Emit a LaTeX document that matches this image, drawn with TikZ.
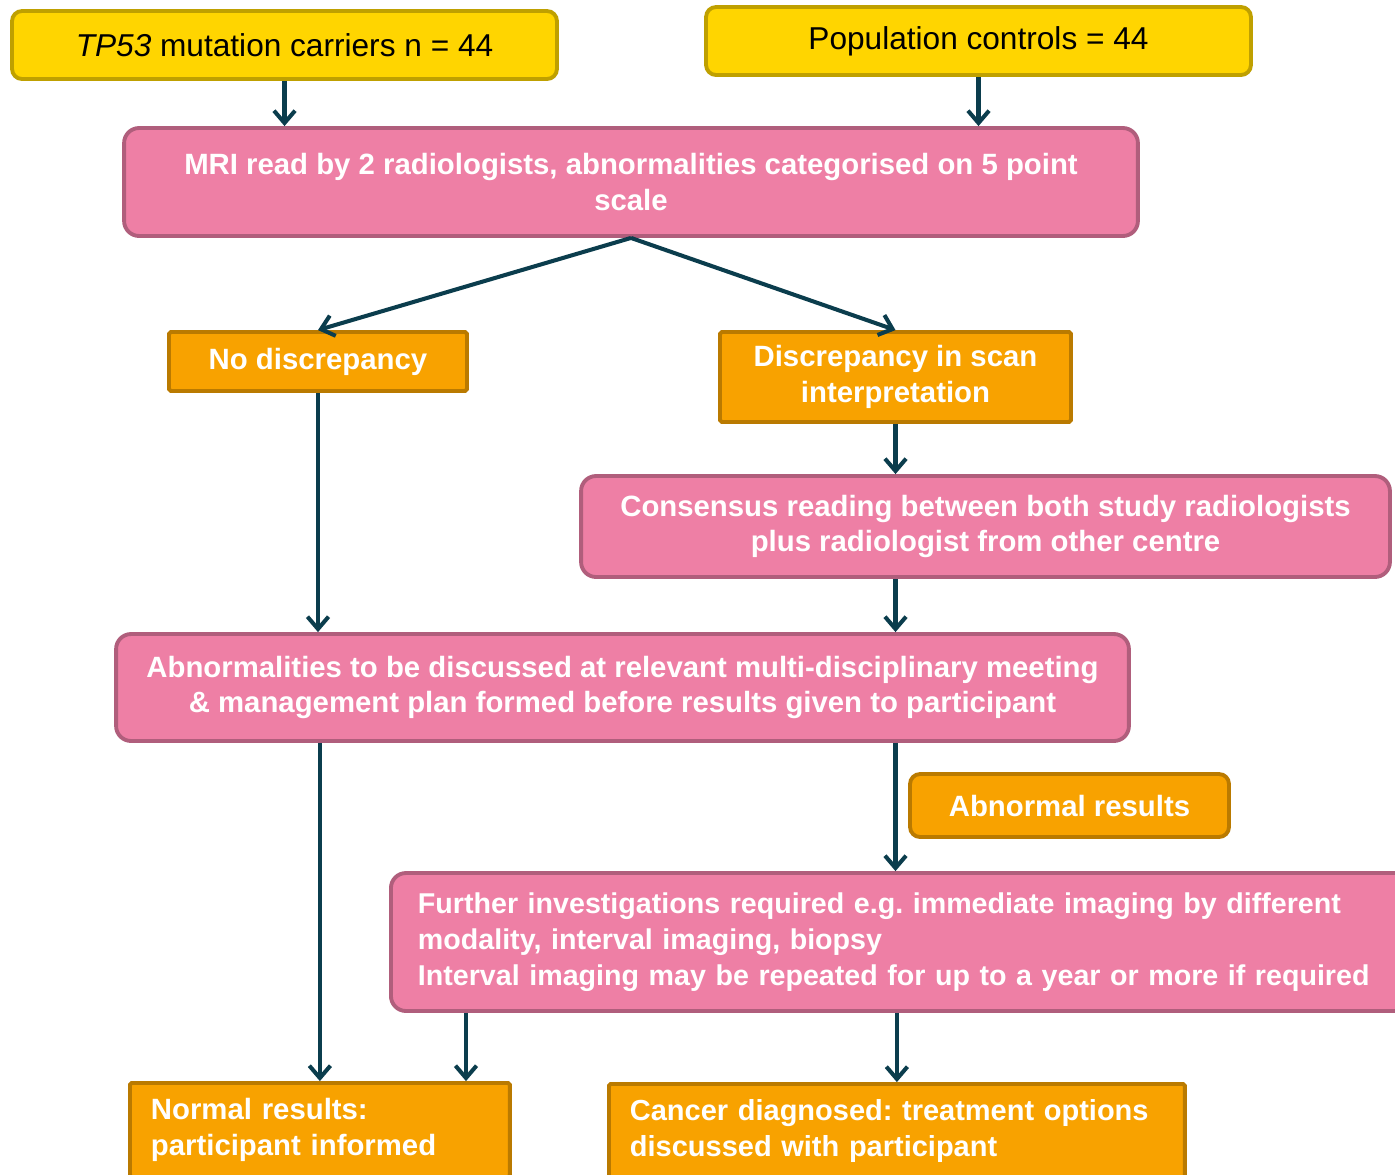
\documentclass[tikz,border=0pt]{standalone}
\usepackage{fontspec}
\setmainfont{Liberation Sans}
\usetikzlibrary{arrows.meta, positioning}
\definecolor{flowYellow}{RGB}{255, 213, 0}
\definecolor{flowYellowEdge}{RGB}{191, 160, 0}
\definecolor{flowPink}{RGB}{238, 127, 165}
\definecolor{flowPinkEdge}{RGB}{176, 94, 124}
\definecolor{flowOrange}{RGB}{248, 162, 0}
\definecolor{flowOrangeEdge}{RGB}{186, 122, 0}
\definecolor{flowArrow}{RGB}{11, 61, 77}
\frenchspacing

\begin{document}
\begin{tikzpicture}[
        x=0.02cm, y=-0.02cm,
        cohort/.style={rectangle, rounded corners=0.2cm, draw=flowYellowEdge, fill=flowYellow, line width=2.2pt, inner sep=0pt, font=\fontsize{18}{22}\selectfont},
        readbox/.style={rectangle, rounded corners=0.3cm, draw=flowPinkEdge, fill=flowPink, line width=2.2pt, inner sep=0pt, text=white, align=center, font=\bfseries\fontsize{16.7}{20.4}\selectfont},
        outcome/.style={rectangle, rounded corners=1pt, draw=flowOrangeEdge, fill=flowOrange, line width=2.2pt, inner sep=0pt, text=white, align=center, font=\bfseries\fontsize{16.7}{20.4}\selectfont},
        arrow/.style={-{Straight Barb[length=7pt, width=12pt]}, line width=2.3pt, flowArrow}
    ]
        \clip (0,0) rectangle (1395,1174);
        \fill[white] (0,0) rectangle (1395,1174);

        % Cohorts
        \node[cohort, minimum width=10.9cm, minimum height=1.36cm] (carriers) at (284.5,45) {\textit{TP53} mutation carriers n = 44};
        \node[cohort, minimum width=10.9cm, minimum height=1.36cm] (controls) at (978.5,41) {Population controls = 44};

        % Reading
        \node[readbox, minimum width=20.28cm, minimum height=2.16cm] (mri) at (631,182) {MRI read by 2 radiologists, abnormalities categorised on 5 point\\scale};
        \node[outcome, minimum width=5.96cm, minimum height=1.18cm] (nodisc) at (318,361.5) {No discrepancy};
        \node[outcome, minimum width=7.02cm, minimum height=1.8cm] (disc) at (895.5,377) {Discrepancy in scan\\interpretation};
        \node[readbox, minimum width=16.18cm, minimum height=2.02cm] (consensus) at (985.5,526.5) {Consensus reading between both study radiologists\\plus radiologist from other centre};
        \node[readbox, minimum width=20.26cm, minimum height=2.14cm] (mdt) at (622.5,687.5) {Abnormalities to be discussed at relevant multi-disciplinary meeting\\\& management plan formed before results given to participant};

        % Results
        \node[outcome, rounded corners=0.2cm, minimum width=6.38cm, minimum height=1.26cm] (abnormal) at (1069.5,805.5) {Abnormal results};
        \node[readbox, align=left, anchor=west, text width=19.54cm, inner xsep=0.54cm, minimum height=2.76cm, font=\bfseries\fontsize{16.3}{20.4}\selectfont] (further) at (389,942) {Further investigations required e.g. immediate imaging by different\\modality, interval imaging, biopsy\\Interval imaging may be repeated for up to a year or more if required};
        \node[outcome, align=left, anchor=west, text width=6.76cm, inner xsep=0.42cm, minimum height=1.88cm] (normal) at (128,1130) {Normal results:\\participant informed};
        \node[outcome, align=left, anchor=west, text width=10.68cm, inner xsep=0.42cm, minimum height=1.88cm, font=\bfseries\fontsize{16.5}{20.4}\selectfont] (cancer) at (607,1131) {Cancer diagnosed: treatment options\\discussed with participant};
        \coordinate (furtherleg) at (466,1011);

        % Arrows
        \draw[arrow] (carriers.south) -- (carriers.south |- mri.north);
        \draw[arrow] (controls.south) -- (controls.south |- mri.north);
        \draw[arrow] (mri.south) -- (nodisc.north);
        \draw[arrow] (mri.south) -- (disc.north);
        \draw[arrow] (disc.south) -- (disc.south |- consensus.north);
        \draw[arrow] (consensus.south -| disc.south) -- (disc.south |- mdt.north);
        \draw[arrow] (nodisc.south) -- (nodisc.south |- mdt.north);
        \draw[arrow] (mdt.south -| normal.north) -- (normal.north);
        \draw[arrow] (mdt.south -| disc.south) -- (disc.south |- further.north);
        \draw[arrow] (further.south -| furtherleg) -- (normal.north -| furtherleg);
        \draw[arrow] (further.south -| cancer.north) -- (cancer.north);
    \end{tikzpicture}
\end{document}
